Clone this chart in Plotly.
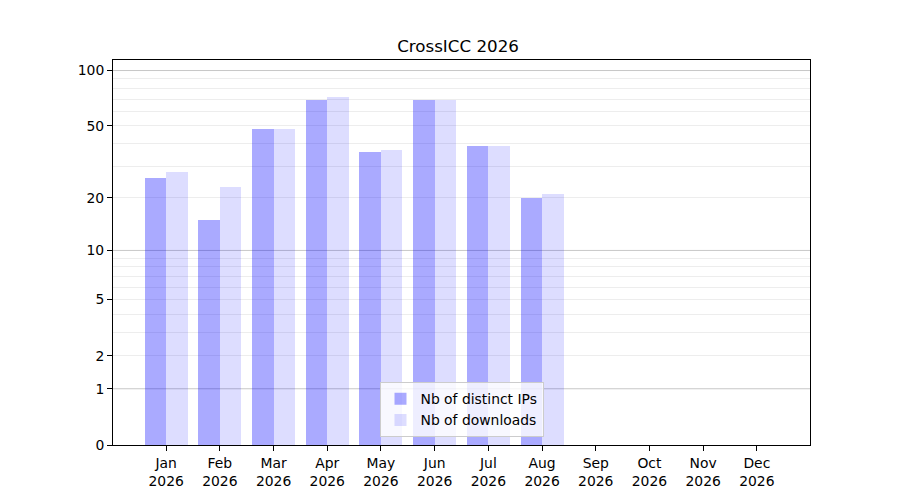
"""
CrossICC 2026 monthly stats, y axis on a log10(1 + y) scale
"""
import numpy as np
import plotly.graph_objects as go

# Data
months = ['Jan', 'Feb', 'Mar', 'Apr', 'May', 'Jun', 'Jul', 'Aug', 'Sep', 'Oct', 'Nov', 'Dec']
year = 2026
distinct_ips = [26, 15, 48, 69, 36, 69, 39, 20]
downloads = [28, 23, 48, 72, 37, 69, 39, 21]

y_tick_labels = [0, 1, 2, 5, 10, 20, 50, 100]
minor_grid = [2, 3, 4, 5, 6, 7, 8, 9, 20, 30, 40, 50, 60, 70, 80, 90]
major_grid = [1, 10, 100]
y_max = 114


def fwd(v):
    # same forward function as the original axis scale
    return np.log10(1 + np.asarray(v, dtype=float))


x_pos = np.arange(len(months))

fig = go.Figure()
fig.add_trace(go.Bar(
    x=x_pos[:len(distinct_ips)],
    y=fwd(distinct_ips),
    customdata=distinct_ips,
    width=0.4,
    offset=-0.4,
    marker=dict(color='rgba(0,0,255,0.333)', line=dict(width=0)),
    name='Nb of distinct IPs',
    hovertemplate='%{customdata}<extra></extra>',
))
fig.add_trace(go.Bar(
    x=x_pos[:len(downloads)],
    y=fwd(downloads),
    customdata=downloads,
    width=0.4,
    offset=0,
    marker=dict(color='rgba(0,0,255,0.133)', line=dict(width=0)),
    name='Nb of downloads',
    hovertemplate='%{customdata}<extra></extra>',
))

# darker grid lines on the decades
for v in major_grid:
    fig.add_shape(type='line', xref='paper', x0=0, x1=1, yref='y',
                  y0=float(fwd(v)), y1=float(fwd(v)),
                  line=dict(color='rgba(0,0,0,0.22)', width=1), layer='below')

# page body adds 8px offset, so margins are shifted by that
fig.update_layout(
    title=dict(text=f'CrossICC {year}', x=0.5, xanchor='center', y=0.924, yanchor='middle',
               font=dict(size=16.7, color='black')),
    width=900,
    height=500,
    margin=dict(l=105, r=98, t=52, b=63),
    barmode='overlay',
    bargap=0,
    plot_bgcolor='white',
    paper_bgcolor='white',
    font=dict(family='DejaVu Sans', size=13.9, color='black'),
    legend=dict(
        x=0.5, xanchor='center', y=0.02, yanchor='bottom',
        bgcolor='rgba(255,255,255,0.8)', bordercolor='#cccccc', borderwidth=1,
        font=dict(size=13.9), itemwidth=30, tracegroupgap=0,
    ),
    showlegend=True,
)
fig.update_xaxes(
    range=[-0.99, 11.99],
    tickvals=x_pos,
    ticktext=[f'{m}<br>{year}' for m in months],
    ticks='outside', ticklen=5, tickcolor='black',
    showline=True, linecolor='black', linewidth=1, mirror=True,
    showgrid=False, zeroline=False,
)
fig.update_yaxes(
    range=[0, float(fwd(y_max))],
    tickvals=fwd(y_tick_labels),
    ticktext=[str(v) for v in y_tick_labels],
    ticks='outside', ticklen=5, tickcolor='black',
    showline=True, linecolor='black', linewidth=1, mirror=True,
    showgrid=False, zeroline=False,
    minor=dict(tickmode='array', tickvals=fwd(minor_grid), showgrid=True,
               gridcolor='rgba(0,0,0,0.07)', gridwidth=1, ticks=''),
)

fig.write_html('out.html')
